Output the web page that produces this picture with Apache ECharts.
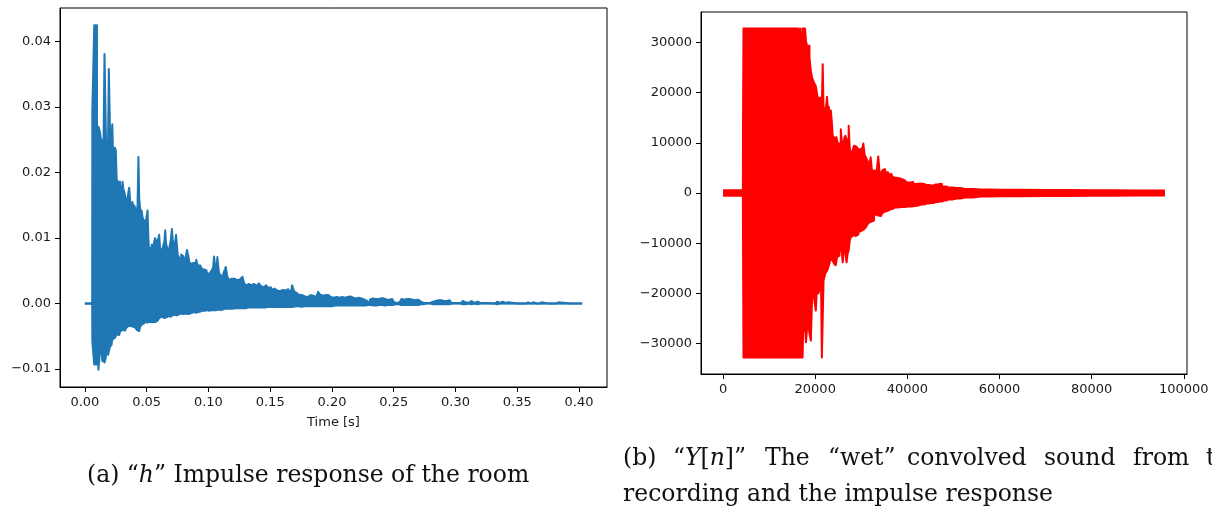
<!DOCTYPE html>
<html>
<head>
<meta charset="utf-8">
<script src="https://cdn.jsdelivr.net/npm/echarts@6/dist/echarts.min.js"></script>
<style>
  html, body { margin: 0; padding: 0; background: #fff; }
  #chart { width: 1212px; height: 510px; }
</style>
</head>
<body>
<div id="chart"></div>
<script>
// (a) Room impulse response h: time [s], upper and lower amplitude envelope
const hTime = [
  0.0000, 0.0059, 0.0062, 0.0072, 0.0080, 0.0092, 0.0104, 0.0116, 0.0124, 0.0131,
  0.0138, 0.0146, 0.0155, 0.0163, 0.0170, 0.0177, 0.0184, 0.0191, 0.0197, 0.0204,
  0.0211, 0.0218, 0.0226, 0.0233, 0.0240, 0.0247, 0.0254, 0.0261, 0.0268, 0.0275,
  0.0281, 0.0288, 0.0295, 0.0302, 0.0308, 0.0315, 0.0322, 0.0329, 0.0335, 0.0342,
  0.0349, 0.0356, 0.0362, 0.0369, 0.0376, 0.0382, 0.0389, 0.0396, 0.0403, 0.0409,
  0.0416, 0.0423, 0.0430, 0.0437, 0.0443, 0.0449, 0.0456, 0.0463, 0.0470, 0.0477,
  0.0483, 0.0490, 0.0497, 0.0504, 0.0511, 0.0517, 0.0524, 0.0531, 0.0538, 0.0545,
  0.0551, 0.0558, 0.0565, 0.0572, 0.0578, 0.0585, 0.0592, 0.0598, 0.0605, 0.0612,
  0.0619, 0.0626, 0.0633, 0.0640, 0.0647, 0.0654, 0.0660, 0.0667, 0.0673, 0.0680,
  0.0687, 0.0694, 0.0701, 0.0708, 0.0714, 0.0721, 0.0728, 0.0735, 0.0741, 0.0748,
  0.0755, 0.0762, 0.0769, 0.0776, 0.0783, 0.0789, 0.0796, 0.0803, 0.0810, 0.0816,
  0.0823, 0.0830, 0.0837, 0.0843, 0.0850, 0.0857, 0.0864, 0.0871, 0.0877, 0.0884,
  0.0891, 0.0898, 0.0905, 0.0912, 0.0918, 0.0925, 0.0932, 0.0939, 0.0946, 0.0953,
  0.0960, 0.0966, 0.0973, 0.0980, 0.0987, 0.0994, 0.1000, 0.1007, 0.1014, 0.1021,
  0.1028, 0.1035, 0.1042, 0.1049, 0.1055, 0.1062, 0.1069, 0.1076, 0.1082, 0.1089,
  0.1096, 0.1103, 0.1110, 0.1117, 0.1124, 0.1130, 0.1137, 0.1144, 0.1151, 0.1158,
  0.1165, 0.1172, 0.1180, 0.1195, 0.1210, 0.1225, 0.1240, 0.1255, 0.1270, 0.1281,
  0.1295, 0.1310, 0.1325, 0.1340, 0.1355, 0.1370, 0.1385, 0.1400, 0.1416, 0.1430,
  0.1445, 0.1460, 0.1475, 0.1490, 0.1505, 0.1520, 0.1535, 0.1550, 0.1565, 0.1580,
  0.1595, 0.1610, 0.1625, 0.1640, 0.1655, 0.1670, 0.1685, 0.1700, 0.1715, 0.1730,
  0.1745, 0.1760, 0.1775, 0.1790, 0.1805, 0.1820, 0.1835, 0.1850, 0.1865, 0.1880,
  0.1895, 0.1910, 0.1925, 0.1940, 0.1955, 0.1970, 0.1985, 0.2000, 0.2015, 0.2030,
  0.2045, 0.2060, 0.2075, 0.2090, 0.2105, 0.2120, 0.2135, 0.2150, 0.2165, 0.2180,
  0.2195, 0.2210, 0.2225, 0.2240, 0.2255, 0.2270, 0.2285, 0.2300, 0.2315, 0.2330,
  0.2345, 0.2360, 0.2375, 0.2390, 0.2405, 0.2420, 0.2435, 0.2450, 0.2465, 0.2480,
  0.2495, 0.2510, 0.2525, 0.2540, 0.2555, 0.2570, 0.2585, 0.2600, 0.2615, 0.2630,
  0.2645, 0.2660, 0.2675, 0.2690, 0.2705, 0.2720, 0.2735, 0.2750, 0.2780, 0.2810,
  0.2825, 0.2840, 0.2855, 0.2870, 0.2885, 0.2900, 0.2915, 0.2930, 0.2945, 0.2960,
  0.2975, 0.3010, 0.3040, 0.3060, 0.3075, 0.3090, 0.3105, 0.3130, 0.3150, 0.3180,
  0.3200, 0.3320, 0.3330, 0.3345, 0.3375, 0.3390, 0.3425, 0.3440, 0.3570, 0.3580,
  0.3595, 0.3630, 0.3645, 0.3680, 0.3690, 0.3705, 0.3815, 0.3825, 0.3840, 0.4025
];
const hPeak = [
  0.0000, 0.0000, 0.0295, 0.0295, 0.0425, 0.0425, 0.0030, 0.0270, 0.0264, 0.0255,
  0.0244, 0.0250, 0.0236, 0.0381, 0.0381, 0.0224, 0.0236, 0.0245, 0.0358, 0.0358,
  0.0224, 0.0245, 0.0274, 0.0218, 0.0232, 0.0238, 0.0234, 0.0190, 0.0186, 0.0183,
  0.0186, 0.0180, 0.0178, 0.0170, 0.0186, 0.0175, 0.0171, 0.0165, 0.0158, 0.0153,
  0.0160, 0.0170, 0.0177, 0.0160, 0.0143, 0.0150, 0.0155, 0.0145, 0.0150, 0.0146,
  0.0148, 0.0140, 0.0150, 0.0224, 0.0160, 0.0148, 0.0138, 0.0142, 0.0132, 0.0128,
  0.0130, 0.0125, 0.0127, 0.0133, 0.0142, 0.0100, 0.0078, 0.0085, 0.0080, 0.0090,
  0.0082, 0.0088, 0.0095, 0.0100, 0.0102, 0.0092, 0.0095, 0.0100, 0.0105, 0.0085,
  0.0077, 0.0080, 0.0085, 0.0082, 0.0095, 0.0112, 0.0092, 0.0087, 0.0087, 0.0080,
  0.0085, 0.0092, 0.0100, 0.0114, 0.0098, 0.0090, 0.0088, 0.0095, 0.0105, 0.0090,
  0.0075, 0.0070, 0.0067, 0.0070, 0.0075, 0.0072, 0.0072, 0.0068, 0.0065, 0.0070,
  0.0075, 0.0082, 0.0084, 0.0070, 0.0062, 0.0060, 0.0061, 0.0058, 0.0062, 0.0060,
  0.0065, 0.0063, 0.0067, 0.0062, 0.0058, 0.0055, 0.0058, 0.0056, 0.0054, 0.0055,
  0.0052, 0.0050, 0.0053, 0.0051, 0.0050, 0.0046, 0.0048, 0.0046, 0.0045, 0.0048,
  0.0050, 0.0048, 0.0055, 0.0072, 0.0060, 0.0050, 0.0055, 0.0071, 0.0058, 0.0047,
  0.0045, 0.0043, 0.0045, 0.0042, 0.0046, 0.0048, 0.0052, 0.0056, 0.0048, 0.0040,
  0.0038, 0.0036, 0.0038, 0.0035, 0.0038, 0.0036, 0.0034, 0.0037, 0.0039, 0.0041,
  0.0032, 0.0027, 0.0030, 0.0028, 0.0026, 0.0030, 0.0027, 0.0029, 0.0031, 0.0027,
  0.0025, 0.0028, 0.0026, 0.0024, 0.0025, 0.0021, 0.0023, 0.0020, 0.0022, 0.0019,
  0.0021, 0.0024, 0.0020, 0.0022, 0.0018, 0.0020, 0.0028, 0.0019, 0.0016, 0.0013,
  0.0011, 0.0013, 0.0011, 0.0012, 0.0010, 0.0013, 0.0016, 0.0012, 0.0010, 0.0013,
  0.0018, 0.0014, 0.0012, 0.0013, 0.0011, 0.0013, 0.0010, 0.0011, 0.0009, 0.0010,
  0.0008, 0.0009, 0.0010, 0.0008, 0.0009, 0.0010, 0.0012, 0.0011, 0.0009, 0.0010,
  0.0008, 0.0009, 0.0007, 0.0008, 0.0006, 0.0007, 0.0004, 0.0001, 0.0006, 0.0008,
  0.0007, 0.0008, 0.0007, 0.0008, 0.0007, 0.0008, 0.0006, 0.0007, 0.0006, 0.0007,
  0.0004, 0.0002, 0.0001, 0.0002, 0.0005, 0.0007, 0.0006, 0.0007, 0.0006, 0.0007,
  0.0006, 0.0007, 0.0005, 0.0006, 0.0004, 0.0003, 0.0001, 0.0001, 0.0001, 0.0003,
  0.0005, 0.0004, 0.0005, 0.0003, 0.0005, 0.0004, 0.0002, 0.0004, 0.0005, 0.0003,
  0.0001, 0.0001, 0.0001, 0.0004, 0.0002, 0.0004, 0.0001, 0.0004, 0.0001, 0.0003,
  0.0001, 0.0000, 0.0003, 0.0001, 0.0003, 0.0001, 0.0002, 0.0000, 0.0000, 0.0002,
  0.0000, 0.0002, 0.0000, 0.0000, 0.0002, 0.0000, 0.0000, 0.0002, 0.0000, 0.0000
];
const hTrough = [
  0.0000, 0.0000, -0.0058, -0.0058, -0.0093, -0.0093, -0.0020, -0.0101, -0.0101, -0.0062,
  -0.0070, -0.0088, -0.0078, -0.0090, -0.0085, -0.0076, -0.0066, -0.0078, -0.0075, -0.0068,
  -0.0060, -0.0064, -0.0055, -0.0058, -0.0052, -0.0050, -0.0052, -0.0047, -0.0045, -0.0048,
  -0.0046, -0.0043, -0.0042, -0.0040, -0.0037, -0.0039, -0.0041, -0.0038, -0.0037, -0.0036,
  -0.0034, -0.0033, -0.0035, -0.0034, -0.0032, -0.0035, -0.0034, -0.0033, -0.0036, -0.0035,
  -0.0036, -0.0040, -0.0042, -0.0042, -0.0040, -0.0036, -0.0034, -0.0032, -0.0033, -0.0030,
  -0.0028, -0.0027, -0.0025, -0.0029, -0.0030, -0.0028, -0.0030, -0.0027, -0.0028, -0.0026,
  -0.0028, -0.0027, -0.0029, -0.0028, -0.0030, -0.0026, -0.0024, -0.0025, -0.0022, -0.0023,
  -0.0020, -0.0022, -0.0021, -0.0022, -0.0020, -0.0020, -0.0021, -0.0019, -0.0019, -0.0020,
  -0.0019, -0.0020, -0.0018, -0.0018, -0.0017, -0.0018, -0.0017, -0.0018, -0.0018, -0.0016,
  -0.0017, -0.0016, -0.0017, -0.0016, -0.0015, -0.0016, -0.0015, -0.0016, -0.0015, -0.0015,
  -0.0016, -0.0016, -0.0014, -0.0015, -0.0015, -0.0014, -0.0015, -0.0014, -0.0014, -0.0013,
  -0.0014, -0.0014, -0.0014, -0.0013, -0.0013, -0.0012, -0.0012, -0.0012, -0.0012, -0.0011,
  -0.0011, -0.0011, -0.0011, -0.0010, -0.0010, -0.0011, -0.0010, -0.0011, -0.0010, -0.0010,
  -0.0010, -0.0010, -0.0010, -0.0010, -0.0009, -0.0010, -0.0009, -0.0010, -0.0009, -0.0009,
  -0.0010, -0.0009, -0.0009, -0.0009, -0.0008, -0.0009, -0.0008, -0.0009, -0.0008, -0.0008,
  -0.0008, -0.0008, -0.0008, -0.0008, -0.0007, -0.0008, -0.0007, -0.0007, -0.0007, -0.0007,
  -0.0007, -0.0007, -0.0006, -0.0006, -0.0007, -0.0006, -0.0006, -0.0006, -0.0006, -0.0006,
  -0.0005, -0.0006, -0.0005, -0.0005, -0.0005, -0.0005, -0.0005, -0.0005, -0.0005, -0.0005,
  -0.0005, -0.0005, -0.0005, -0.0005, -0.0005, -0.0004, -0.0005, -0.0004, -0.0004, -0.0004,
  -0.0005, -0.0004, -0.0004, -0.0004, -0.0004, -0.0004, -0.0004, -0.0004, -0.0004, -0.0004,
  -0.0005, -0.0004, -0.0004, -0.0004, -0.0004, -0.0004, -0.0003, -0.0004, -0.0003, -0.0003,
  -0.0003, -0.0003, -0.0003, -0.0003, -0.0003, -0.0003, -0.0003, -0.0003, -0.0003, -0.0003,
  -0.0003, -0.0003, -0.0003, -0.0003, -0.0002, -0.0003, -0.0002, -0.0001, -0.0002, -0.0003,
  -0.0002, -0.0003, -0.0002, -0.0003, -0.0002, -0.0003, -0.0002, -0.0002, -0.0002, -0.0002,
  -0.0002, -0.0001, -0.0001, -0.0001, -0.0002, -0.0002, -0.0002, -0.0002, -0.0002, -0.0002,
  -0.0002, -0.0002, -0.0002, -0.0002, -0.0001, -0.0001, -0.0001, 0.0000, 0.0000, -0.0001,
  -0.0001, -0.0001, -0.0001, -0.0001, -0.0001, -0.0001, -0.0001, -0.0001, -0.0001, -0.0001,
  0.0000, 0.0000, 0.0000, -0.0001, -0.0001, -0.0001, 0.0000, -0.0001, 0.0000, -0.0001,
  0.0000, 0.0000, -0.0001, 0.0000, 0.0000, 0.0000, 0.0000, 0.0000, 0.0000, 0.0000,
  0.0000, 0.0000, 0.0000, 0.0000, 0.0000, 0.0000, 0.0000, 0.0000, 0.0000, 0.0000
];

// (b) Wet convolved signal Y[n]: sample index, upper and lower amplitude envelope
const yIndex = [
  0, 4300, 4350, 4500, 16250, 16550, 16650, 16750, 17050, 17150,
  17250, 17370, 17500, 17700, 17880, 18100, 18350, 18600, 18900, 19180,
  19450, 19690, 19980, 20270, 20450, 20630, 20810, 20990, 21170, 21350,
  21530, 21710, 21890, 22070, 22250, 22450, 22650, 22830, 23020, 23270,
  23520, 23700, 23880, 24250, 24610, 24860, 25110, 25400, 25690, 25880,
  26060, 26240, 26420, 26680, 26930, 27150, 27360, 27600, 27860, 28220,
  28590, 28950, 29310, 29600, 29890, 30250, 30620, 30870, 31120, 31480,
  31850, 32200, 32570, 32930, 33290, 33550, 33800, 34100, 34380, 34740,
  35100, 35470, 35830, 36190, 36550, 36910, 37270, 38000, 38720, 39450,
  40170, 40900, 41610, 42340, 43060, 44150, 45230, 46130, 47040, 47950,
  48850, 50660, 52470, 56000, 60000, 70000, 80000, 90000, 95900
];
const yPeak = [
  550, 550, 13700, 32767, 32767, 32767, 23700, 32767, 32767, 26000,
  32767, 32767, 32767, 32767, 32767, 30280, 29300, 29300, 27000, 24300,
  23000, 22300, 21800, 21300, 20000, 19000, 18500, 18200, 19000, 19300,
  17500, 25640, 17000, 16400, 16800, 17200, 19150, 16500, 17200, 16000,
  16400, 14000, 11400, 11000, 11100, 10500, 9700, 10000, 12700, 10200,
  10000, 9800, 11000, 11400, 10500, 10800, 13400, 9000, 7750, 8200,
  9400, 9200, 9100, 8600, 8800, 8200, 9860, 7500, 7080, 6500,
  5430, 7100, 3780, 4500, 4300, 5000, 7280, 4200, 3800, 4500,
  4770, 4200, 4100, 3600, 3800, 3200, 3100, 3000, 2800, 2500,
  2100, 2200, 1800, 1900, 1800, 1600, 1500, 1700, 1800, 1300,
  1100, 1000, 800, 700, 650, 600, 550, 500, 500
];
const yTrough = [
  -550, -550, -9500, -32767, -32767, -32767, -32767, -32767, -32767, -32767,
  -32767, -32767, -25700, -27500, -26000, -29700, -27000, -26000, -28000, -29400,
  -21000, -19400, -21500, -23400, -19000, -18500, -20000, -19000, -18000, -17500,
  -32767, -32767, -17500, -16800, -16000, -16000, -15500, -15000, -14500, -13800,
  -13100, -13300, -13500, -14000, -14400, -12800, -12500, -11500, -10500, -12000,
  -13800, -11500, -10000, -12000, -13800, -12000, -11500, -9500, -8800, -8500,
  -8200, -8600, -8300, -7800, -7500, -7400, -7200, -7000, -6800, -6300,
  -5900, -5700, -5500, -4600, -4200, -4500, -4800, -4600, -4500, -4000,
  -3700, -3600, -3500, -3300, -3200, -3000, -2900, -2900, -2800, -2800,
  -2700, -2700, -2600, -2500, -2300, -2100, -2000, -1800, -1700, -1500,
  -1300, -1100, -900, -700, -650, -600, -550, -500, -500
];

// Tick positions
const hTicksX = [0, 0.05, 0.10, 0.15, 0.20, 0.25, 0.30, 0.35, 0.40];
const hTicksY = [-0.01, 0, 0.01, 0.02, 0.03, 0.04];
const yTicksX = [0, 20000, 40000, 60000, 80000, 100000];
const yTicksY = [-30000, -20000, -10000, 0, 10000, 20000, 30000];

const MINUS = '\u2212';
const TICK_FONT = 'DejaVu Sans';
const SERIF = '"DejaVu Serif"';
const CAP_SIZE = 23.5;

function signed(v, digits) {
  const s = Math.abs(v).toFixed(digits);
  return (v < -1e-12 ? MINUS : '') + s;
}

function axis(ticks, fmt, extra) {
  return Object.assign({
    type: 'value',
    axisLine: { show: true, onZero: false, lineStyle: { color: '#000', width: 1 } },
    axisTick: { show: true, inside: false, length: 5, customValues: ticks,
                lineStyle: { color: '#000', width: 1 } },
    axisLabel: { customValues: ticks, formatter: fmt, color: '#1a1a1a',
                 fontFamily: TICK_FONT, fontSize: 13, margin: 9 },
    splitLine: { show: false }
  }, extra);
}

// One edge of a waveform's min/max band, filled towards the zero line.
// The fill reaches slightly past zero so the two halves overlap cleanly.
function edge(xs, vs, idx, color, origin) {
  return {
    type: 'line',
    xAxisIndex: idx,
    yAxisIndex: idx,
    data: xs.map((x, i) => [x, vs[i]]),
    step: 'middle',
    showSymbol: false,
    symbol: 'none',
    silent: true,
    animation: false,
    lineStyle: { color: color, width: 2, join: 'round' },
    itemStyle: { color: color },
    areaStyle: { color: color, opacity: 1, origin: origin }
  };
}

const blue = '#1f77b4';
const red = '#ff0000';

const option = {
  backgroundColor: '#fff',
  animation: false,
  grid: [
    { left: 60, top: 8, width: 547, height: 379, show: true,
      borderColor: '#000', borderWidth: 1, backgroundColor: 'transparent' },
    { left: 701, top: 12, width: 486, height: 362, show: true,
      borderColor: '#000', borderWidth: 1, backgroundColor: 'transparent' }
  ],
  xAxis: [
    axis(hTicksX, v => v.toFixed(2), {
      gridIndex: 0, min: -0.020125, max: 0.422625,
      name: 'Time [s]', nameLocation: 'middle', nameGap: 29,
      nameTextStyle: { color: '#1a1a1a', fontFamily: TICK_FONT, fontSize: 13 }
    }),
    axis(yTicksX, v => String(v), { gridIndex: 1, min: -4795, max: 100695 })
  ],
  yAxis: [
    axis(hTicksY, v => signed(v, 2), { gridIndex: 0, min: -0.01273, max: 0.04513 }),
    axis(yTicksY, v => signed(v, 0), { gridIndex: 1, min: -36044, max: 36044 })
  ],
  series: [
    edge(hTime, hPeak, 0, blue, -0.00008),
    edge(hTime, hTrough, 0, blue, 0.00008),
    edge(yIndex, yPeak, 1, red, -150),
    edge(yIndex, yTrough, 1, red, 150)
  ],
  graphic: []
};

// Captions under the two panels
function caption(x, y, text) {
  return {
    type: 'text', x: x, y: y, silent: true,
    style: {
      text: text,
      fill: '#111',
      font: CAP_SIZE + 'px ' + SERIF,
      verticalAlign: 'middle',
      align: 'left',
      rich: {
        i: { font: 'italic ' + CAP_SIZE + 'px ' + SERIF, fill: '#111' }
      }
    }
  };
}

option.graphic.push(caption(87, 476, '(a) \u201c{i|h}\u201d Impulse response of the room'));

// First line of caption (b) is justified across the column
const bWords = ['(b)', '\u201c{i|Y}[{i|n}]\u201d', 'The', '\u201cwet\u201d', 'convolved', 'sound', 'from', 'the'];
const bWordX = [623, 673, 765, 828, 907, 1044, 1133, 1206];
bWords.forEach((w, i) => option.graphic.push(caption(bWordX[i], 459, w)));
option.graphic.push(caption(623, 495, 'recording and the impulse response'));

const chart = echarts.init(document.getElementById('chart'), null, { renderer: 'canvas' });
chart.setOption(option);
</script>
</body>
</html>
